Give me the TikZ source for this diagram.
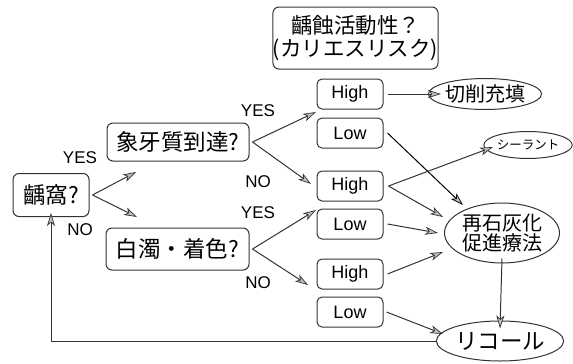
\documentclass[tikz,border=0pt]{standalone}
\usepackage{fontspec}
\setmainfont{Liberation Sans}
\newfontfamily\jp{Noto Sans CJK JP}
\usetikzlibrary{arrows.meta,shapes.geometric}
\tikzset{
  ln/.style={draw=black!80, line width=1pt},
  arr/.style={ln, -{Stealth[length=13pt,width=8pt,inset=3.5pt,fill=gray!50,line width=0.7pt]}},
  qbox/.style={ln, rounded corners=6pt, inner sep=0pt, align=center, font=\jp\fontsize{22.5}{24}\selectfont},
  rbox/.style={ln, rounded corners=5pt, minimum width=66pt, minimum height=30pt, inner sep=0pt, font=\fontsize{18}{20}\selectfont},
  ell/.style={ln, ellipse, inner sep=0pt, align=center},
  lbl/.style={font=\fontsize{17}{19}\selectfont, inner sep=0pt}
}
\begin{document}
\begin{tikzpicture}[x=1pt,y=-1pt]
\useasboundingbox (0,0) rectangle (573,364);
% nodes
\node[qbox, minimum width=76pt, minimum height=43pt] (root) at (51,195) {齲窩?};
\node[qbox, minimum width=142pt, minimum height=38pt] (q1) at (178,142) {象牙質到達?};
\node[qbox, minimum width=143pt, minimum height=42pt] (q2) at (177.5,249) {白濁・着色?};
\node[qbox, minimum width=147pt, minimum height=62pt, font=\jp\fontsize{21.5}{23}\selectfont] (risk) at (355.5,38) {齲蝕活動性？\\(カリエスリスク)};
\node[rbox] (h1) at (350,94) {High};
\node[rbox] (l1) at (350,133) {Low};
\node[rbox] (h2) at (350,186) {High};
\node[rbox] (l2) at (350,224) {Low};
\node[rbox] (h3) at (350,274) {High};
\node[rbox] (l3) at (350,312) {Low};
\node[ell, minimum width=84pt, minimum height=31pt, font=\jp\fontsize{20}{21}\selectfont] (cut) at (485,94) {切削充填};
\node[ell, minimum width=70pt, minimum height=27pt, font=\jp\fontsize{12.5}{14}\selectfont] (seal) at (528,145) {シーラント};
\node[ell, minimum width=115pt, minimum height=60pt, font=\jp\fontsize{20}{20.5}\selectfont] (remin) at (502,233) {再石灰化\\促進療法};
\node[ell, minimum width=111pt, minimum height=40pt, font=\jp\fontsize{22.5}{24}\selectfont] (recall) at (500,341) {リコール};
% labels
\node[lbl] (y0) at (80,158) {YES};
\node[lbl] (n0) at (80,230) {NO};
\node[lbl] (y1) at (258,111) {YES};
\node[lbl] (n1) at (258,182) {NO};
\node[lbl] (y2) at (258,213) {YES};
\node[lbl] (n2) at (258,283) {NO};
% arrow end points
\coordinate (e1) at (136,172);
\coordinate (e2) at (137,217);
\coordinate (e3) at (316,112);
\coordinate (e4) at (311,184);
\coordinate (e5) at (316,210);
\coordinate (e6) at (308,285);
\coordinate (e7) at (441,94);
\coordinate (e8) at (463,205);
\coordinate (e9) at (493,147);
\coordinate (e10) at (443,217);
\coordinate (e11) at (438,233);
\coordinate (e12) at (443,252);
\coordinate (e13) at (443,334);
\coordinate (turn) at (51,341);
% connectors
\draw[arr] ([xshift=3pt]root.east) -- (e1);
\draw[arr] ([xshift=3pt]root.east) -- (e2);
\draw[arr] ([xshift=3pt]q1.east) -- (e3);
\draw[arr] ([xshift=3pt]q1.east) -- (e4);
\draw[arr] ([xshift=3pt]q2.east) -- (e5);
\draw[arr] ([xshift=3pt]q2.east) -- (e6);
\draw[arr] ([xshift=4pt]h1.east) -- (e7);
\draw[arr, draw=black] ([xshift=4pt]l1.east) -- (e8);
\draw[arr] ([xshift=5pt]h2.east) -- (e9);
\draw[arr] ([xshift=5pt]h2.east) -- (e10);
\draw[arr] ([xshift=4pt]l2.east) -- (e11);
\draw[arr] ([xshift=4pt]h3.east) -- (e12);
\draw[arr] ([xshift=3pt]l3.east) -- (e13);
\draw[arr] ([yshift=5pt]remin.south) -- ([yshift=-8pt]recall.north);
\draw[arr] (recall.west) -- (turn) -- ([yshift=4pt]root.south);
\end{tikzpicture}
\end{document}
